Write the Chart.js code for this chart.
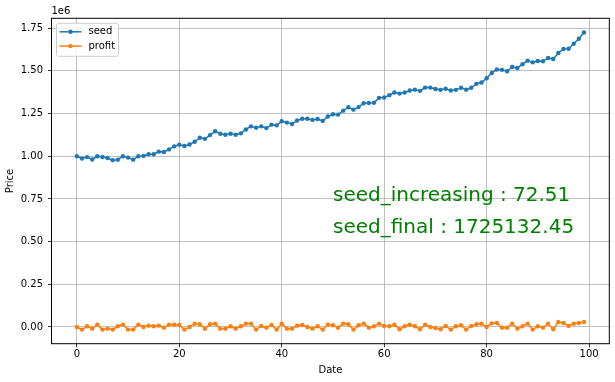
<!DOCTYPE html>
<html>
<head>
<meta charset="utf-8">
<script src="https://cdn.jsdelivr.net/npm/chart.js@4.4.0/dist/chart.umd.min.js"></script>
<style>
  html, body { margin: 0; padding: 0; background: #fff; }
  #wrap { width: 615px; height: 382px; position: relative; }
</style>
</head>
<body>
<div id="wrap"><canvas id="chart"></canvas></div>
<script>
const days = Array.from({ length: 100 }, (_, i) => i);

const seed = [
  1000000, 987000, 995000, 981000, 1000000, 996000, 990000, 977000, 980000, 1000000,
  992000, 980000, 1000000, 1002000, 1012000, 1012000, 1027000, 1025000, 1040000, 1058000,
  1068000, 1060000, 1069000, 1085000, 1108000, 1102000, 1124000, 1146000, 1132000, 1126000,
  1132000, 1126000, 1134000, 1157000, 1175000, 1167000, 1175000, 1165000, 1185000, 1181000,
  1205000, 1197000, 1189000, 1209000, 1220000, 1220000, 1213000, 1218000, 1207000, 1233000,
  1246000, 1244000, 1267000, 1287000, 1273000, 1288000, 1310000, 1312000, 1313000, 1342000,
  1344000, 1358000, 1373000, 1367000, 1373000, 1385000, 1390000, 1383000, 1402000, 1402000,
  1394000, 1389000, 1395000, 1385000, 1389000, 1401000, 1390000, 1401000, 1424000, 1432000,
  1457000, 1488000, 1508000, 1506000, 1498000, 1523000, 1517000, 1539000, 1560000, 1550000,
  1558000, 1556000, 1576000, 1570000, 1605000, 1628000, 1630000, 1659000, 1688000, 1725132.45
];

const profit = [
  0, -15500, 3900, -9700, 13600, -15500, -9700, -15500, 3900, 13600,
  -15500, -15500, 13600, 0, 7800, 3900, 7800, -3900, 13600, 13600,
  11600, -15500, 0, 19400, 15500, -9700, 15500, 19400, -9700, -9700,
  3900, -9700, 3900, 19400, 19400, -15500, 5800, -3900, 11600, -15500,
  19400, -9700, -9700, 7800, 11600, 0, -9700, 3900, -15500, 14000,
  9700, -3900, 19400, 15500, -15500, 9700, 19400, -3900, 3900, 19400,
  5800, 3900, 13600, -13600, 3900, 13600, 3900, -13600, 13600, 0,
  -5800, -13600, 5800, -15500, 3900, 9700, -15500, 5800, 15500, 19400,
  0, 21300, 23000, -3900, -3900, 19400, -9700, 3900, 19400, -15500,
  3900, -3900, 19400, -13600, 29000, 23000, 5800, 19400, 23000, 29000
];

const seriesNames = ["seed", "profit"];
const seriesColors = ["#1f77b4", "#ff7f0e"];
const xTicks = [0, 20, 40, 60, 80, 100];
const yTicks = [0, 250000, 500000, 750000, 1000000, 1250000, 1500000, 1750000];

const seedIncreasing = ((seed[seed.length - 1] / seed[0] - 1) * 100).toFixed(2);
const seedFinal = seed[seed.length - 1].toFixed(2);
const notes = [
  { text: "seed_increasing : " + seedIncreasing, x: 50, y: 740000 },
  { text: "seed_final : " + seedFinal, x: 50, y: 550000 }
];

const FONT = "DejaVu Sans";

const extras = {
  id: "extras",
  afterDatasetsDraw(chart) {
    const { ctx, chartArea: a, scales } = chart;
    ctx.save();

    // spines
    ctx.strokeStyle = "#000";
    ctx.lineWidth = 1;
    ctx.strokeRect(a.left, a.top, a.right - a.left, a.bottom - a.top);

    // offset text
    ctx.fillStyle = "#000";
    ctx.font = "10px " + FONT;
    ctx.textAlign = "left";
    ctx.textBaseline = "alphabetic";
    ctx.fillText("1e6", a.left, a.top - 4);

    // annotations
    ctx.fillStyle = "green";
    ctx.font = "20px " + FONT;
    notes.forEach(n => {
      ctx.fillText(n.text, scales.x.getPixelForValue(n.x), scales.y.getPixelForValue(n.y));
    });

    // legend
    const bx = a.left + 5, by = a.top + 5, bw = 62, bh = 33;
    ctx.beginPath();
    ctx.roundRect(bx, by, bw, bh, 2);
    ctx.fillStyle = "rgba(255,255,255,0.8)";
    ctx.fill();
    ctx.strokeStyle = "#cccccc";
    ctx.lineWidth = 1;
    ctx.stroke();
    ctx.font = "10px " + FONT;
    ctx.textBaseline = "middle";
    chart.data.datasets.forEach((ds, i) => {
      const cy = by + 8.5 + i * 14.3;
      ctx.strokeStyle = ds.borderColor;
      ctx.lineWidth = 1.5;
      ctx.beginPath();
      ctx.moveTo(bx + 3, cy);
      ctx.lineTo(bx + 25, cy);
      ctx.stroke();
      ctx.fillStyle = ds.borderColor;
      ctx.beginPath();
      ctx.arc(bx + 14, cy, 2.2, 0, Math.PI * 2);
      ctx.fill();
      ctx.fillStyle = "#000";
      ctx.fillText(ds.label, bx + 32, cy);
    });
    ctx.restore();
  }
};

const datasets = [seed, profit].map((vals, i) => ({
  label: seriesNames[i],
  data: days.map((d, j) => ({ x: d, y: vals[j] })),
  borderColor: seriesColors[i],
  backgroundColor: seriesColors[i],
  borderWidth: 1.5,
  pointRadius: 2.2,
  pointBorderWidth: 0,
  pointHoverRadius: 2.2,
  tension: 0,
  fill: false
}));

const axisGrid = {
  color: "#b0b0b0",
  lineWidth: 0.8,
  tickColor: "#000",
  tickLength: 3.5,
  tickWidth: 0.8,
  drawTicks: true
};

new Chart(document.getElementById("chart"), {
  type: "line",
  data: { datasets },
  options: {
    responsive: true,
    maintainAspectRatio: false,
    animation: false,
    devicePixelRatio: 1,
    layout: { padding: { top: 18.3, right: 5.7, left: 0, bottom: 0 } },
    plugins: { legend: { display: false }, tooltip: { enabled: false } },
    scales: {
      x: {
        type: "linear",
        min: -4.95,
        max: 103.95,
        afterBuildTicks: s => { s.ticks = xTicks.map(v => ({ value: v })); },
        afterFit: s => { s.height = 38.3; },
        grid: axisGrid,
        border: { display: false },
        ticks: { color: "#000", font: { family: FONT, size: 10 }, padding: 1, maxRotation: 0, autoSkip: false },
        title: { display: true, text: "Date", color: "#000", font: { family: FONT, size: 10 }, padding: { top: 0, bottom: 6 } }
      },
      y: {
        type: "linear",
        min: -98000,
        max: 1808000,
        afterBuildTicks: s => { s.ticks = yTicks.map(v => ({ value: v })); },
        afterFit: s => { s.width = 51.5; },
        grid: axisGrid,
        border: { display: false },
        ticks: { color: "#000", font: { family: FONT, size: 10 }, padding: 5, autoSkip: false,
                 callback: v => (v / 1e6).toFixed(2) },
        title: { display: true, text: "Price", color: "#000", font: { family: FONT, size: 10 }, padding: { top: 4, bottom: 0 } }
      }
    }
  },
  plugins: [extras]
});
</script>
</body>
</html>
